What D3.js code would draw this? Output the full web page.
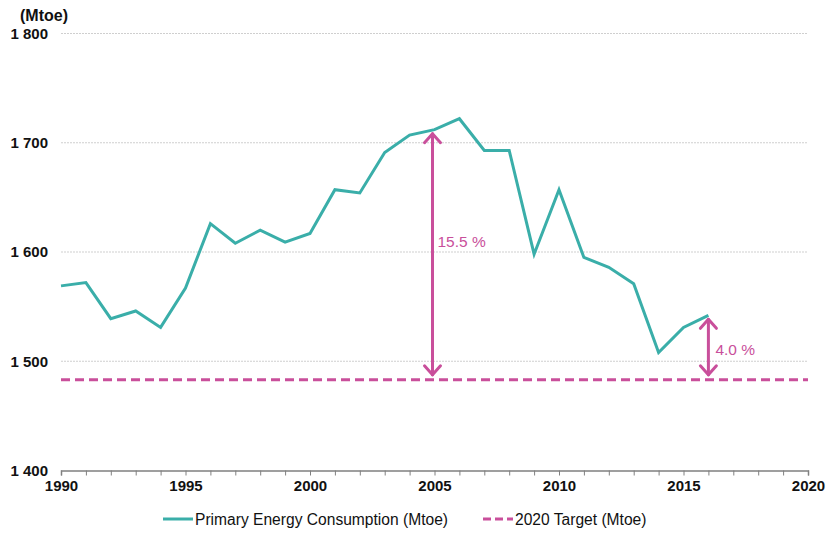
<!DOCTYPE html>
<html>
<head>
<meta charset="utf-8">
<script src="https://cdn.jsdelivr.net/npm/d3@7"></script>
<style>
  body { margin: 0; background: #fff; }
  text { font-family: "Liberation Sans", Arial, sans-serif; }
</style>
</head>
<body>
<div id="chart"></div>
<script>
// data (EU primary energy consumption, Mtoe)
var years = [1990, 1991, 1992, 1993, 1994, 1995, 1996, 1997, 1998, 1999,
             2000, 2001, 2002, 2003, 2004, 2005, 2006, 2007, 2008, 2009,
             2010, 2011, 2012, 2013, 2014, 2015, 2016];
var consumption = [1569, 1572, 1539, 1546, 1531, 1567, 1626, 1608, 1620, 1609,
                   1617, 1657, 1654, 1691, 1707, 1712, 1722, 1693, 1693, 1598,
                   1657, 1595, 1586, 1571, 1508, 1531, 1542];
var target = 1483;
var yTicks = [1400, 1500, 1600, 1700, 1800];
var xLabels = [1990, 1995, 2000, 2005, 2010, 2015, 2020];
var gapYears = [2005, 2016];
var gapLabels = ["15.5 %", "4.0 %"];
var legendNames = ["Primary Energy Consumption (Mtoe)", "2020 Target (Mtoe)"];

var teal = "#3AAEA9", pink = "#C94F9B";

var W = 829, H = 533;
var margin = {top: 33.5, right: 21, bottom: 62.5, left: 61};
var width = W - margin.left - margin.right,
    height = H - margin.top - margin.bottom;

var svg = d3.select("#chart").append("svg")
  .attr("width", W).attr("height", H);

var g = svg.append("g")
  .attr("transform", "translate(" + margin.left + "," + margin.top + ")");

var x = d3.scaleLinear().domain([1990, 2020]).range([0, width]);
var y = d3.scaleLinear().domain([1400, 1800]).range([height, 0]);

// gridlines
g.selectAll(".grid").data(yTicks.slice(1)).enter().append("line")
  .attr("x1", 0).attr("x2", width)
  .attr("y1", function(d) { return y(d); })
  .attr("y2", function(d) { return y(d); })
  .attr("stroke", "#cfcfcf")
  .attr("stroke-width", 1)
  .attr("stroke-dasharray", "2,1");

// y labels
g.selectAll(".ylab").data(yTicks).enter().append("text")
  .attr("x", -13).attr("y", function(d) { return y(d); })
  .attr("dy", "0.35em")
  .attr("text-anchor", "end")
  .style("font-size", "15px").style("font-weight", "bold").attr("fill", "#111")
  .text(function(d) { return d3.format(",")(d).replace(",", " "); });

svg.append("text")
  .attr("x", 20).attr("y", 21)
  .style("font-size", "16px").style("font-weight", "bold").attr("fill", "#111")
  .text("(Mtoe)");

// x axis
var xAxis = g.append("g")
  .attr("transform", "translate(0," + height + ")")
  .call(d3.axisBottom(x).tickValues(d3.range(1990, 2021)).tickSize(5)
        .tickFormat(function(d) { return xLabels.indexOf(d) >= 0 ? d : ""; }));
xAxis.select(".domain").attr("stroke", "#808080").attr("stroke-width", 1.5);
xAxis.selectAll(".tick line").attr("stroke", "#808080");
xAxis.selectAll(".tick text")
  .attr("y", 10)
  .style("font-size", "15px").style("font-weight", "bold")
  .style("font-family", "'Liberation Sans', Arial, sans-serif")
  .attr("fill", "#111");

// target line
g.append("line")
  .attr("x1", 0).attr("x2", width)
  .attr("y1", y(target)).attr("y2", y(target))
  .attr("stroke", pink).attr("stroke-width", 3)
  .attr("stroke-dasharray", "9,5");

// consumption line
var line = d3.line()
  .x(function(d, i) { return x(years[i]); })
  .y(function(d) { return y(d); });

g.append("path")
  .datum(consumption)
  .attr("d", line)
  .attr("fill", "none")
  .attr("stroke", teal)
  .attr("stroke-width", 3)
  .attr("stroke-linejoin", "miter");

// gap arrows
gapYears.forEach(function(yr, k) {
  var v = consumption[years.indexOf(yr)];
  var ax = x(yr) - (k === 0 ? 2 : 0);
  var y1 = y(v) + 4, y2 = y(target) - 5;
  var a = g.append("g").attr("stroke", pink).attr("stroke-width", 3)
    .attr("fill", "none").attr("stroke-linecap", "round").attr("stroke-linejoin", "round");
  a.append("line").attr("x1", ax).attr("x2", ax).attr("y1", y1).attr("y2", y2);
  a.append("polyline")
    .attr("points", [[ax - 8, y1 + 9], [ax, y1], [ax + 8, y1 + 9]].join(" "));
  a.append("polyline")
    .attr("points", [[ax - 8, y2 - 9], [ax, y2], [ax + 8, y2 - 9]].join(" "));
  g.append("text")
    .attr("x", ax + (k === 0 ? 5 : 7))
    .attr("y", k === 0 ? (y1 + y2) / 2 - 7 : y(1500) - 6)
    .style("font-size", "15.5px").attr("fill", pink)
    .text(gapLabels[k]);
});

// legend
var leg = svg.append("g").attr("transform", "translate(0,519)");
leg.append("line").attr("x1", 163).attr("x2", 193).attr("y1", 0).attr("y2", 0)
  .attr("stroke", teal).attr("stroke-width", 3);
leg.append("text").attr("x", 195).attr("y", 5.5)
  .style("font-size", "15.6px").attr("fill", "#111").text(legendNames[0]);
leg.append("line").attr("x1", 483).attr("x2", 513).attr("y1", 0).attr("y2", 0)
  .attr("stroke", pink).attr("stroke-width", 3).attr("stroke-dasharray", "8,4");
leg.append("text").attr("x", 515).attr("y", 5.5)
  .style("font-size", "15.6px").attr("fill", "#111").text(legendNames[1]);
</script>
</body>
</html>
